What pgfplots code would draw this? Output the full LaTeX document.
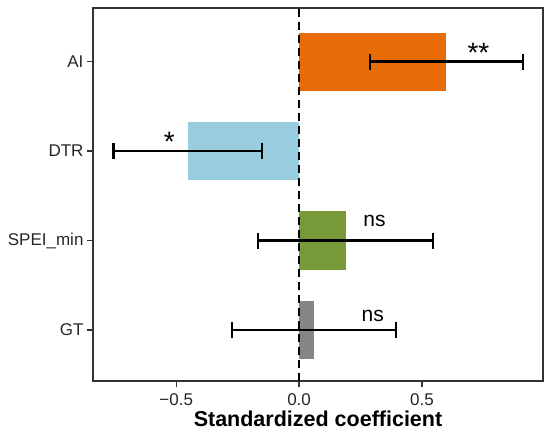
\documentclass[border=0pt]{standalone}
\usepackage{fontspec}
\setmainfont{Liberation Sans}
\usepackage{pgfplots}
\pgfplotsset{compat=1.18}
\definecolor{cAI}{HTML}{E76B06}
\definecolor{cDTR}{HTML}{97CDDE}
\definecolor{cSP}{HTML}{779939}
\definecolor{cGT}{HTML}{858585}
\definecolor{frame}{HTML}{333333}
\begin{document}
\begin{tikzpicture}
\begin{axis}[name=ax,
  at={(0,0)}, anchor=south west,
  scale only axis, width=450pt, height=373pt,
  xmin=-0.839, xmax=0.993, ymin=0.43, ymax=4.6,
  xtick={-0.5,0,0.5}, xticklabels={−0.5,0.0,0.5},
  ytick={1,2,3,4}, yticklabels={GT,SPEI\_min,DTR,AI},
  tick align=outside, major tick length=6pt,
  tick style={line width=1.3pt, color=frame},
  xtick pos=bottom, ytick pos=left,
  axis line style={line width=2.8pt, color=frame},
  ticklabel style={font=\fontsize{17}{20}\selectfont, text=black!85},
  xticklabel style={yshift=-3pt},
  xlabel={\bfseries Standardized coefficient},
  xlabel style={font=\fontsize{21.5}{24}\selectfont, at={(axis description cs:0.5,0)}, anchor=base, yshift=-46pt},
  clip=false,
]
\addplot[xbar, bar width=0.65, bar shift=0pt, fill=cAI, draw=none] coordinates {(0.600,4)};
\addplot[xbar, bar width=0.65, bar shift=0pt, fill=cDTR, draw=none] coordinates {(-0.453,3)};
\addplot[xbar, bar width=0.65, bar shift=0pt, fill=cSP, draw=none] coordinates {(0.189,2)};
\addplot[xbar, bar width=0.65, bar shift=0pt, fill=cGT, draw=none] coordinates {(0.060,1)};
\addplot[black, line width=2.3pt, dash pattern=on 8pt off 5pt] coordinates {(0,0.43) (0,4.6)};
\addplot[draw=none, mark=none,
  error bars/.cd, x dir=both, x explicit,
  error bar style={line width=2.4pt, black},
  error mark options={line width=2.4pt, black, mark size=8pt, rotate=90}]
  coordinates {
  (0.600,4) +- (0.3125,0)
  (-0.453,3) +- (0.303,0)
  (0.189,2) +- (0.356,0)
  (0.060,1) +- (0.3335,0)
};
\node[anchor=base, font=\fontsize{28}{30}\selectfont] at (axis cs:0.730,3.987) {**};
\node[anchor=base, font=\fontsize{28}{30}\selectfont] at (axis cs:-0.528,2.996) {*};
\node[anchor=base, font=\fontsize{21}{24}\selectfont] at (axis cs:0.307,2.159) {ns};
\node[anchor=base, font=\fontsize{21}{24}\selectfont] at (axis cs:0.300,1.10) {ns};
\end{axis}
\pgfresetboundingbox
\path[use as bounding box] (-93pt,-54pt) rectangle (457pt,381pt);
\end{tikzpicture}
\end{document}
